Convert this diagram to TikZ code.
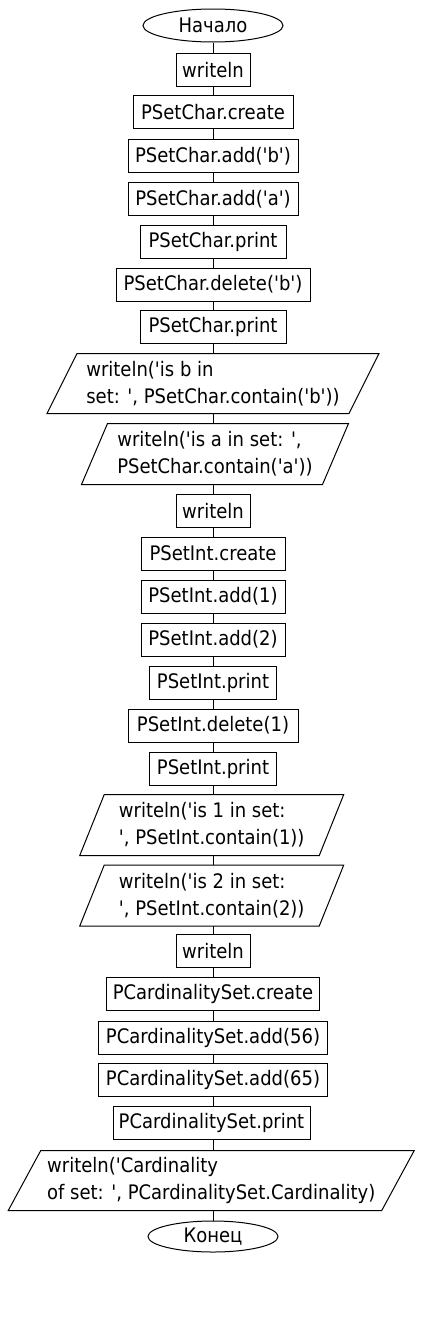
\documentclass[tikz,border=0pt]{standalone}
\usepackage{fontspec}
\setmainfont{DejaVu Sans Condensed}[Ligatures=TeXOff]
\usetikzlibrary{shapes.geometric}
\tikzset{
  base/.style={line width=1pt, font=\fontsize{20}{27}\selectfont, inner sep=0pt, text=black},
  proc/.style={base, draw, rectangle, minimum height=33pt},
  term/.style={base, draw, ellipse, inner sep=0pt},
  io/.style={base, rectangle, align=left},
  link/.style={line width=1pt}
}
\newcommand\drawio[2]{\draw[line width=1pt] ([xshift=#2pt]#1.north west) -- ([xshift=#2pt]#1.north east) -- ([xshift=-#2pt]#1.south east) -- ([xshift=-#2pt]#1.south west) -- cycle;}
\begin{document}
\begin{tikzpicture}[x=1pt,y=-1pt]
\useasboundingbox (0,0) rectangle (426,1317);
\coordinate (axis) at (213,0);
\node[term, minimum width=140pt, minimum height=33pt] (start) at (213,25.5) {Начало};
\node[proc, minimum width=74pt] (w1) at (213,70) {writeln};
\node[proc, minimum width=160pt] (c1) at (213,112) {PSetChar.create};
\node[proc, minimum width=170pt] (a1) at (213,156) {PSetChar.add('b')};
\node[proc, minimum width=170pt] (a2) at (213,199) {PSetChar.add('a')};
\node[proc, minimum width=146pt] (p1) at (213,241.5) {PSetChar.print};
\node[proc, minimum width=194pt] (d1) at (213,284.5) {PSetChar.delete('b')};
\node[proc, minimum width=146pt] (p2) at (213,327) {PSetChar.print};
\node[io, minimum width=301pt, minimum height=59pt] (io1) at (213,383.5) {writeln('is b in\\set: ', PSetChar.contain('b'))};
\node[io, minimum width=240pt, minimum height=60pt] (io2) at (215,454) {writeln('is a in set: ',\\PSetChar.contain('a'))};
\node[proc, minimum width=74pt] (w2) at (213,511) {writeln};
\node[proc, minimum width=144pt] (c2) at (213,553.5) {PSetInt.create};
\node[proc, minimum width=144pt] (a3) at (213,596.5) {PSetInt.add(1)};
\node[proc, minimum width=144pt] (a4) at (213,639.5) {PSetInt.add(2)};
\node[proc, minimum width=127pt] (p3) at (213,682.5) {PSetInt.print};
\node[proc, minimum width=170pt] (d2) at (213,725.5) {PSetInt.delete(1)};
\node[proc, minimum width=127pt] (p4) at (213,768.5) {PSetInt.print};
\node[io, minimum width=238.5pt, minimum height=60pt] (io3) at (211.75,825) {writeln('is 1 in set:\\', PSetInt.contain(1))};
\node[io, minimum width=238.5pt, minimum height=60pt] (io4) at (211.75,895.5) {writeln('is 2 in set:\\', PSetInt.contain(2))};
\node[proc, minimum width=74pt] (w3) at (213,951) {writeln};
\node[proc, minimum width=213pt] (c3) at (213,994) {PCardinalitySet.create};
\node[proc, minimum width=229pt] (a5) at (213,1037.5) {PCardinalitySet.add(56)};
\node[proc, minimum width=229pt] (a6) at (213,1080) {PCardinalitySet.add(65)};
\node[proc, minimum width=197pt] (p5) at (211.5,1123) {PCardinalitySet.print};
\node[io, minimum width=372.5pt, minimum height=59pt] (io5) at (211.25,1180.5) {writeln('Cardinality\\of set: ', PCardinalitySet.Cardinality)};
\node[term, minimum width=130pt, minimum height=31pt] (end) at (213,1236.5) {Конец};
\drawio{io1}{15}
\drawio{io2}{13}
\drawio{io3}{12.25}
\drawio{io4}{12.25}
\drawio{io5}{16.25}
\foreach \u/\v in {start/w1,w1/c1,c1/a1,a1/a2,a2/p1,p1/d1,d1/p2,p2/io1,io1/io2,io2/w2,w2/c2,c2/a3,a3/a4,a4/p3,p3/d2,d2/p4,p4/io3,io3/io4,io4/w3,w3/c3,c3/a5,a5/a6,a6/p5,p5/io5,io5/end}
  \draw[link] (\u.south -| axis) -- (\v.north -| axis);
\end{tikzpicture}
\end{document}
